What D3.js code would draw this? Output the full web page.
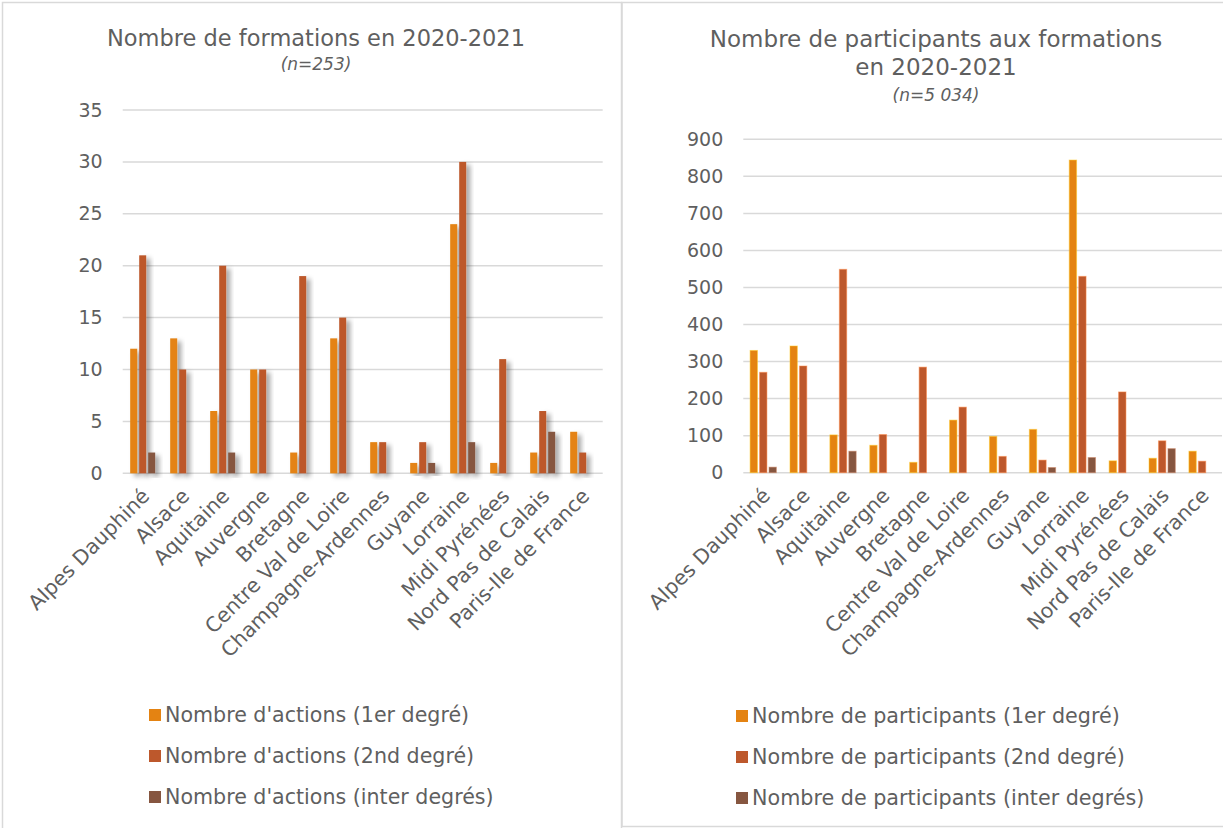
<!DOCTYPE html>
<html>
<head>
<meta charset="utf-8">
<script src="https://cdn.jsdelivr.net/npm/d3@7"></script>
<style>
  body { margin: 0; background: #fff; }
  svg { display: block; font-family: "DejaVu Sans", sans-serif; }
  text { fill: #5f5f5f; }
</style>
</head>
<body>
<svg id="chart" width="1223" height="828"></svg>
<script>
const regions = ["Alpes Dauphiné", "Alsace", "Aquitaine", "Auvergne", "Bretagne",
  "Centre Val de Loire", "Champagne-Ardennes", "Guyane", "Lorraine",
  "Midi Pyrénées", "Nord Pas de Calais", "Paris-Ile de France"];

const actions1er = [12, 13, 6, 10, 2, 13, 3, 1, 24, 1, 2, 4];
const actions2nd = [21, 10, 20, 10, 19, 15, 3, 3, 30, 11, 6, 2];
const actionsInter = [2, 0, 2, 0, 0, 0, 0, 1, 3, 0, 4, 0];

const partic1er = [330, 342, 102, 74, 28, 142, 98, 117, 844, 32, 39, 58];
const partic2nd = [271, 288, 549, 103, 285, 177, 44, 34, 530, 218, 86, 31];
const particInter = [15, 0, 58, 0, 0, 0, 0, 14, 41, 0, 65, 0];

const leftTicks = [0, 5, 10, 15, 20, 25, 30, 35];
const rightTicks = [0, 100, 200, 300, 400, 500, 600, 700, 800, 900];

const leftLegend = ["Nombre d'actions (1er degré)", "Nombre d'actions (2nd degré)", "Nombre d'actions (inter degrés)"];
const rightLegend = ["Nombre de participants (1er degré)", "Nombre de participants (2nd degré)", "Nombre de participants (inter degrés)"];

const colors = ["#E48312", "#BD582C", "#865640"];

const svg = d3.select("#chart");

// drop shadow used by the left chart
const defs = svg.append("defs");
defs.append("filter")
    .attr("id", "shadow")
    .attr("x", "-50%").attr("y", "-10%")
    .attr("width", "250%").attr("height", "130%")
  .append("feDropShadow")
    .attr("dx", 4).attr("dy", 3)
    .attr("stdDeviation", 2.5)
    .attr("flood-color", "#000")
    .attr("flood-opacity", 0.35);

// panel borders
svg.append("rect")
    .attr("x", 2.5).attr("y", 2.5)
    .attr("width", 619).attr("height", 840)
    .attr("fill", "none").attr("stroke", "#d9d9d9").attr("stroke-width", 1.5);
svg.append("rect")
    .attr("x", 622).attr("y", 2.5)
    .attr("width", 620).attr("height", 824)
    .attr("fill", "none").attr("stroke", "#d9d9d9").attr("stroke-width", 1.5);

function drawChart(opts) {
    const g = svg.append("g");
    const series = opts.series;

    const x0 = d3.scaleBand()
        .domain(regions)
        .range([opts.left, opts.right]);
    const x1 = d3.scaleBand()
        .domain(d3.range(series.length))
        .range([opts.inset, x0.bandwidth() - opts.inset])
        .paddingInner(2 / 9);
    const y = d3.scaleLinear()
        .domain([0, opts.max])
        .range([opts.bottom, opts.top]);

    // title
    opts.title.forEach((t) => {
        g.append("text")
            .attr("x", opts.titleX)
            .attr("y", t.y)
            .attr("text-anchor", "middle")
            .style("font-size", t.size + "px")
            .style("font-style", t.italic ? "italic" : "normal")
            .text(t.text);
    });

    // grid lines
    g.append("g")
        .selectAll("line")
        .data(opts.ticks)
        .join("line")
        .attr("x1", opts.left).attr("x2", opts.right)
        .attr("y1", (d) => y(d)).attr("y2", (d) => y(d))
        .attr("stroke", "#d9d9d9")
        .attr("stroke-width", 1.5);

    // y axis labels
    const yAxis = g.append("g")
        .attr("transform", `translate(${opts.left - 20},0)`)
        .call(d3.axisLeft(y).tickValues(opts.ticks).tickSize(0).tickPadding(0));
    yAxis.select(".domain").remove();
    yAxis.selectAll("text")
        .attr("fill", "#5f5f5f")
        .style("font-family", "DejaVu Sans")
        .style("font-size", "19px");

    // bars
    const groups = g.append("g")
        .selectAll("g")
        .data(regions)
        .join("g")
        .attr("transform", (d) => `translate(${x0(d)},0)`);

    groups.selectAll("rect")
        .data((d, i) => series.map((s, k) => ({ k: k, v: s[i] })).filter((d) => d.v > 0))
        .join("rect")
        .attr("x", (d) => x1(d.k))
        .attr("width", x1.bandwidth())
        .attr("y", (d) => y(d.v))
        .attr("height", (d) => y(0) - y(d.v))
        .attr("fill", (d) => colors[d.k])
        .attr("filter", opts.shadow ? "url(#shadow)" : null)
        .attr("stroke", opts.shadow ? null : (d) => d3.color(colors[d.k]).brighter(1.2))
        .attr("stroke-opacity", 0.5)
        .attr("stroke-width", 1);

    // category labels, rotated
    g.append("g")
        .selectAll("text")
        .data(regions)
        .join("text")
        .attr("transform", (d) => `translate(${x0(d) + x0.bandwidth() / 2 + 3},${opts.bottom + 19}) rotate(-45)`)
        .attr("text-anchor", "end")
        .attr("dy", "0.35em")
        .style("font-size", "20.5px")
        .text((d) => d);

    // legend
    const leg = g.append("g")
        .selectAll("g")
        .data(opts.legend)
        .join("g")
        .attr("transform", (d, i) => `translate(${opts.legendX},${opts.legendY + i * 41})`);
    leg.append("rect")
        .attr("x", 0).attr("y", -6)
        .attr("width", 12).attr("height", 12)
        .attr("fill", (d, i) => colors[i]);
    leg.append("text")
        .attr("x", 16)
        .attr("dy", "0.35em")
        .style("font-size", opts.legendSize + "px")
        .text((d) => d);
}

drawChart({
    series: [actions1er, actions2nd, actionsInter],
    left: 122.7, right: 602.7, top: 110, bottom: 473.3,
    max: 35, ticks: leftTicks, inset: 7.5, shadow: true,
    titleX: 316,
    title: [
        { text: "Nombre de formations en 2020-2021", y: 46, size: 22.5 },
        { text: "(n=253)", y: 70, size: 17, italic: true }
    ],
    legend: leftLegend, legendX: 149, legendY: 715, legendSize: 20.6
});

drawChart({
    series: [partic1er, partic2nd, particInter],
    left: 743.3, right: 1222, top: 139.3, bottom: 472.7,
    max: 900, ticks: rightTicks, inset: 6.8, shadow: false,
    titleX: 936,
    title: [
        { text: "Nombre de participants aux formations", y: 47, size: 23 },
        { text: "en 2020-2021", y: 75, size: 23 },
        { text: "(n=5 034)", y: 101, size: 17, italic: true }
    ],
    legend: rightLegend, legendX: 736, legendY: 716, legendSize: 20.7
});
</script>
</body>
</html>
